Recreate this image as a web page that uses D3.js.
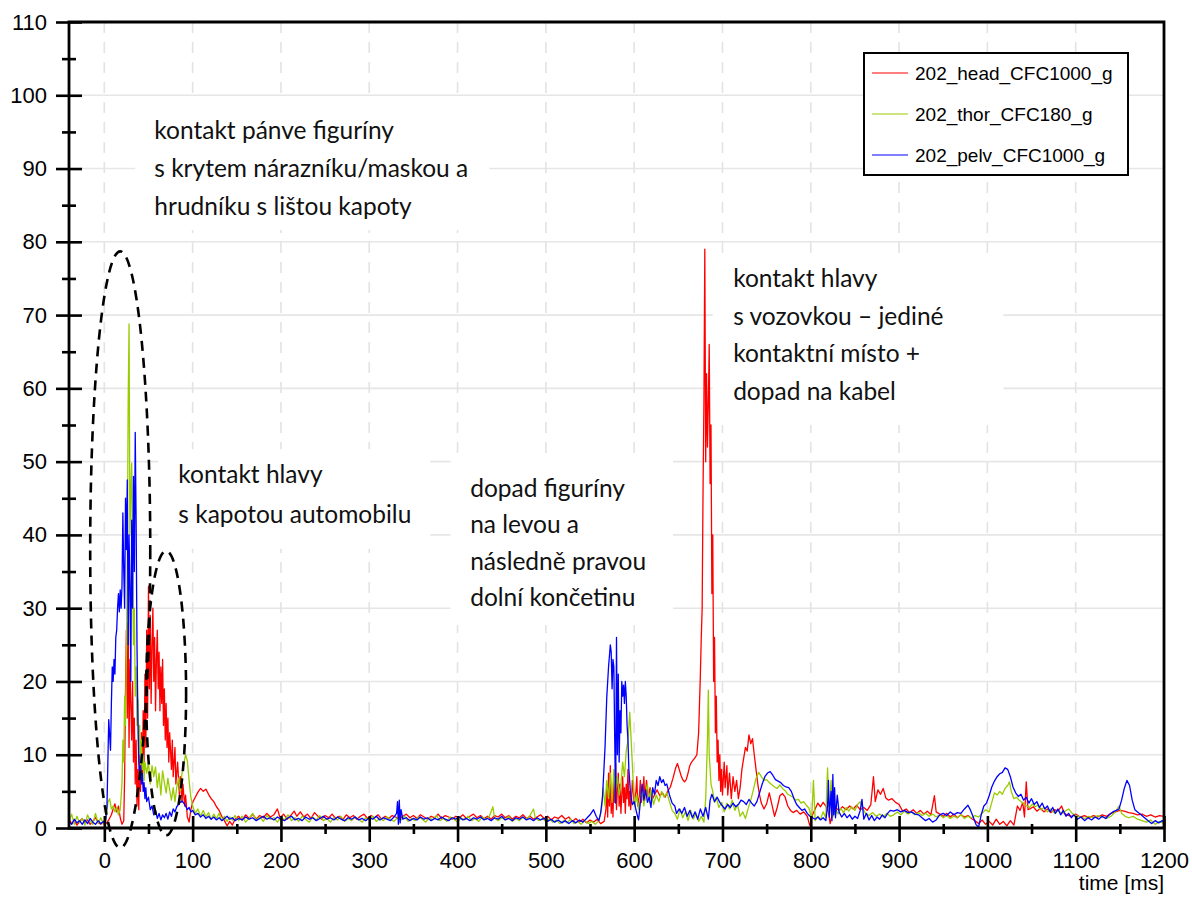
<!DOCTYPE html>
<html>
<head>
<meta charset="utf-8">
<script src="https://cdn.jsdelivr.net/npm/d3@7"></script>
<style>
  html, body { margin:0; padding:0; background:#fff; }
  svg { display:block; }
</style>
</head>
<body>
<svg id="chart" width="1192" height="897"></svg>
<script>
// ---- data (time [ms], acceleration [g]) ----
const seriesNames = ["202_head_CFC1000_g", "202_thor_CFC180_g", "202_pelv_CFC1000_g"];

const head = [
  [-40,1.2],[-37,0.6],[-34,1.0],[-31,0.4],[-28,0.9],[-25,1.3],[-22,0.7],[-19,1.1],[-16,0.5],[-13,0.9],[-10,1.4],[-7,0.8],[-4,0.5],[-1,0.9],
  [2,0.6],[5,1.1],[8,1.8],[10,2.6],[12,3.3],[14,2.2],[16,3.0],[18,1.4],[20,0.5],[22,1.0],
  [23,7],[24,19],[25,27],[26,15],[27,28],[28,11],[29,23],[30,17],[31,12],[32,20],[33,9],[34,15],[35,6],[36,12],[37,3],[38,8],[39,2.5],
  [40,10],[41,5],[42,13],[43,7],[44,16],[45,9],[46,21],[47,11],[48,27],[49,15],[50,33],[51,19],[52,29],[53,17],[54,25],[55,30],
  [56,20],[57,26],[58,16],[59,23],[60,27],[61,19],[62,24],[63,16],[64,22],[65,17],[66,23],[67,14],[68,19],[69,12],[70,17],[71,11],
  [72,15],[73,9],[74,13],[76,8],[77,12],[78,7],[80,11],[81,6],[83,9],[85,4.5],[86,7],[88,3.5],[89,6],[91,3],[92,4.5],[94,1.5],[96,0.8],
  [98,2.5],[100,3.5],[103,4.2],[106,4.9],[109,5.4],[112,5.0],[115,5.3],[118,4.6],[121,4.0],[124,3.6],[127,2.9],[130,2.4],[133,1.6],
  [136,1.0],[139,0.3],[142,0.9],[145,0.4],[148,1.2],
  [152,1.6],[156,1.1],[160,1.8],[164,1.3],[168,1.9],[172,1.2],[176,1.7],[180,1.4],[184,2.0],[188,1.5],[192,1.8],[196,2.6],[199,1.4],
  [203,1.9],[207,1.2],[211,1.7],[215,2.3],[218,1.6],[222,2.2],[226,1.5],[230,1.9],[234,1.3],[238,2.1],[242,1.6],[246,1.2],[250,1.7],
  [254,1.4],[258,1.9],[262,1.3],[266,1.6],[270,1.1],[274,1.8],[278,1.4],[282,1.7],[286,1.2],[290,1.6],[294,1.9],[298,1.3],[302,1.7],
  [306,1.4],[310,1.8],[314,1.2],[318,1.6],[322,1.3],[326,1.7],[330,1.5],[334,1.2],[338,1.6],[342,1.9],[346,1.4],[350,1.7],[354,1.3],
  [358,1.8],[362,1.5],[366,1.2],[370,1.6],[374,1.4],[378,1.9],[382,1.3],[386,1.7],[390,1.5],[394,1.2],[398,1.6],[402,1.4],[406,1.8],
  [410,1.3],[414,1.6],[418,1.9],[422,1.4],[426,1.7],[430,1.3],[434,1.6],[438,1.2],[442,1.7],[446,1.5],[450,1.9],[454,1.4],[458,1.7],
  [462,1.2],[466,1.6],[470,1.4],[474,1.8],[478,1.3],[482,1.6],[486,1.2],[490,1.5],[494,1.8],[498,1.3],[502,1.6],[506,1.1],[510,1.5],
  [514,1.3],[518,1.7],[522,1.2],[526,1.5],[530,0.9],[534,1.3],[538,0.8],[542,1.2],[546,0.7],[550,1.1],[554,0.8],[558,1.2],[562,0.6],
  [566,0.9],[568,2.5],[569,6],[570,1.5],[571,7.5],[572,3],[573,8.5],[574,2],[575,5],[576,1.5],[577,6.5],[578,3.5],[579,8.8],[580,2.5],
  [581,5.5],[582,7.5],[583,3],[584,6],[585,2],[586,4.5],[587,7],[588,3.5],[589,5.5],[590,2],[591,6],[592,4],[593,8],[594,3],[595,5],
  [596,2.5],[597,4],[598,6.5],[600,3.5],[602,5],[603,7],[604,3],[606,4.5],[607,6.5],[608,3.5],[610,5],[611,7],[612,3.8],[614,6.5],
  [616,4],[618,5.5],[620,3.8],[623,4.5],[626,5.2],[629,4.4],[632,4.8],[635,4.2],[638,5.0],[641,5.6],[644,6.8],[647,8.2],[649,8.8],
  [651,8.0],[653,7.2],[655,6.6],[657,6.3],[659,6.6],[661,7.5],[663,8.5],[665,9.0],[667,9.3],[669,9.6],[671,10],[673,13],[674,17],
  [675,21],[676,26],[677,30],[678,46],[679,58],[680,79],[681,50],[682,62],[683,52],[684,58],[685,66],[686,47],[687,55],[688,32],
  [689,40],[690,20],[691,26],[692,13],[693,18],[694,9],[695,12],[696,6.5],[697,10],[698,5],[699,8],[700,4.5],[702,9],[703,5.5],
  [705,8.5],[706,4.5],[708,7.5],[710,4],[712,7],[714,5],[716,6.5],[718,4],[720,5.5],[722,8],[724,9.5],[726,11],[728,10.5],[730,12.7],
  [732,11.5],[734,12.2],[736,10],[738,8],[740,6],[742,4.5],[744,3.4],[747,2.6],[750,3.3],[753,4.8],[756,3.2],[759,1.6],[762,2.8],
  [765,4.4],[768,4.7],[771,4.2],[774,3.0],[777,2.4],[780,2.1],[784,2.4],[788,1.9],[792,2.2],[796,1.6],[799,0.3],[802,1.8],[805,2.6],
  [808,3.4],[811,2.9],[814,3.5],[817,3.0],[820,2.2],[822,0.6],[825,2.4],[828,2.8],[832,2.4],[836,2.9],[840,2.5],[844,3.0],[848,2.6],
  [852,3.1],[856,2.5],[860,2.8],[864,2.4],[868,3.2],[871,7.0],[873,3.6],[876,5.2],[879,4.6],[882,5.4],[885,4.1],[888,3.8],[892,4.0],
  [896,3.5],[900,3.2],[904,2.3],[908,2.6],[912,2.1],[916,2.5],[920,2.0],[924,2.4],[928,1.9],[932,2.3],[936,1.8],[940,4.4],[942,2.2],
  [946,1.9],[950,1.6],[954,2.0],[958,1.5],[962,1.9],[966,1.4],[970,1.8],[974,1.5],[978,1.7],[982,1.3],[986,1.0],[990,0.6],[994,1.1],
  [998,0.5],[1002,0.9],[1006,0.4],[1010,1.2],[1014,0.5],[1018,0.9],[1022,0.3],[1026,1.0],[1030,0.4],[1034,3.0],[1037,2.4],[1040,3.5],
  [1042,1.5],[1044,6.3],[1046,2.5],[1048,2.6],[1052,2.9],[1056,2.3],[1060,2.7],[1064,2.2],[1068,2.6],[1072,2.1],[1076,2.5],[1080,2.3],
  [1084,3.0],[1087,2.0],[1090,1.8],[1095,1.6],[1100,1.9],[1105,1.5],[1110,1.7],[1115,1.4],[1120,1.7],[1125,1.5],[1130,1.8],[1135,1.6],
  [1140,2.0],[1145,2.2],[1150,2.4],[1155,2.3],[1160,2.1],[1165,2.0],[1170,1.8],[1175,1.9],[1180,1.6],[1185,1.8],[1190,1.5],[1195,1.7],
  [1200,1.6]
];

const thor = [
  [-40,0.8],[-37,1.9],[-34,0.5],[-31,1.6],[-28,0.7],[-25,1.3],[-22,0.4],[-19,1.8],[-16,0.9],[-13,0.5],[-10,2.0],[-7,0.6],[-4,1.4],[-1,0.5],
  [2,1.2],[4,3.5],[6,4.0],[8,2.6],[10,3.0],[12,2.2],[14,2.8],[16,1.8],[18,2.5],[20,6],[21,12],[22,9],[23,18],[24,14],[25,24],[26,35],
  [27,58],[28,68.8],[29,40],[30,46],[31,49.8],[32,36],[33,25],[34,30],[35,18],[36,22],[37,14],[38,17.5],[39,10],[40,14],[41,8.5],
  [42,12],[43,8],[44,10],[45,6.5],[46,9],[48,7.5],[50,9],[52,6],[54,8.5],[56,7],[58,8.3],[60,5.5],[62,7.5],[64,4.5],[66,7.8],[68,6.2],
  [70,4.8],[72,6.8],[74,5.2],[76,3.8],[78,5.5],[80,3.6],[82,5.5],[84,6.8],[86,5.0],[88,7.5],[90,8.8],[92,10],[94,9.2],[96,6.5],[98,4.2],
  [100,3.0],[103,2.0],[106,2.6],[109,1.6],[112,2.4],[115,1.5],[118,2.1],[121,1.2],[124,1.9],[127,1.3],[130,2.0],[133,1.0],[136,1.6],
  [139,0.9],[142,1.5],[145,1.1],[148,1.7],
  [152,1.0],[156,1.6],[160,0.8],[164,1.3],[168,2.0],[172,1.1],[176,1.5],[180,0.9],[184,1.7],[188,1.2],[192,1.4],[196,0.8],[200,1.5],
  [204,1.1],[208,1.8],[212,1.0],[216,1.4],[220,0.9],[224,1.6],[228,1.2],[232,0.8],[236,1.5],[240,1.1],[244,1.7],[248,1.0],[252,1.3],
  [256,0.8],[260,1.4],[264,1.1],[268,1.6],[272,0.9],[276,1.3],[280,1.0],[284,1.5],[288,1.2],[292,0.8],[296,1.4],[300,1.1],[304,1.6],
  [308,0.9],[312,1.3],[316,1.0],[320,1.5],[324,1.2],[328,0.9],[332,1.4],[336,1.1],[340,1.6],[344,0.9],[348,1.3],[352,1.0],[356,1.5],
  [360,1.2],[364,0.8],[368,1.4],[372,1.1],[376,1.7],[380,1.0],[384,1.3],[388,0.9],[392,1.5],[396,1.2],[400,0.8],[404,1.4],[408,1.1],
  [412,1.6],[416,1.0],[420,1.3],[424,0.9],[428,1.5],[432,1.2],[436,1.6],[440,2.9],[442,1.3],[446,1.0],[450,1.4],[454,1.1],[458,1.6],
  [462,0.9],[466,1.3],[470,1.0],[474,1.5],[478,1.2],[482,1.7],[486,2.6],[488,1.4],[492,1.0],[496,1.3],[500,0.9],[504,1.2],[508,0.8],
  [512,1.1],[516,0.6],[520,1.0],[524,0.7],[528,1.2],[532,0.6],[536,0.9],[540,0.5],[544,1.0],[548,0.6],[552,0.9],[556,0.5],[560,1.0],
  [563,2.5],[565,5.5],[567,3],[569,6.5],[571,4],[573,7.5],[575,3.5],[577,8],[579,5],[581,7],[583,4.5],[585,6],[587,9],[589,7],
  [591,10.5],[593,12],[595,15.8],[597,11],[599,6],[601,3],[603,4.5],[605,2.5],[607,3.8],[609,5.5],[611,3],[613,4.8],[615,6],[617,3.5],
  [619,5.2],[622,3.2],[625,4.5],[628,3.6],[631,5.0],[634,4.2],[637,4.8],[640,3.6],[643,2.4],[646,2.0],[649,1.2],[652,2.6],[655,1.4],
  [658,2.2],[661,1.0],[664,2.4],[667,1.2],[670,2.0],[673,0.9],[676,1.6],[679,0.8],[681,4],[683,12],[684,18.8],[685,10],[687,6],
  [689,5],[691,3.5],[693,4.2],[696,2.8],[699,3.5],[702,2.2],[705,3.4],[708,2.6],[711,3.8],[714,2.4],[717,3.2],[720,1.6],[723,2.2],
  [726,1.3],[729,2.6],[732,3.8],[735,5.2],[738,6.8],[741,7.6],[744,7.0],[747,6.5],[750,6.6],[753,6.2],[756,5.9],[759,5.6],[762,5.4],
  [765,5.9],[768,5.4],[771,5.1],[774,4.6],[777,4.4],[780,4.2],[783,3.8],[786,3.9],[789,3.4],[792,3.6],[795,3.1],[798,2.7],[801,1.2],
  [803,6.5],[805,1.0],[808,1.6],[811,1.2],[814,2.2],[817,1.4],[819,8.2],[821,2.0],[823,6.5],[825,1.5],[828,2.6],[831,1.9],[834,2.7],
  [837,2.1],[840,2.8],[843,2.3],[846,2.9],[850,2.4],[853,3.2],[856,3.6],[859,2.6],[862,2.0],[866,1.7],[870,2.1],[874,1.6],[878,1.9],
  [882,1.5],[886,2.0],[890,1.6],[894,1.8],[898,2.2],[902,1.8],[906,2.3],[910,1.9],[914,2.2],[918,1.8],[922,2.1],[926,1.7],[930,2.0],
  [934,1.6],[938,1.9],[942,1.5],[946,1.8],[950,1.4],[954,1.7],[958,1.3],[962,1.6],[966,1.4],[970,1.8],[974,1.3],[978,1.6],[982,1.4],
  [986,1.7],[990,1.5],[994,2.0],[998,2.5],[1002,2.2],[1005,3.5],[1008,4.8],[1011,4.5],[1014,5.0],[1017,4.6],[1020,5.4],[1023,5.8],
  [1025,6.3],[1027,5.0],[1030,4.0],[1033,4.2],[1036,3.8],[1039,3.5],[1042,3.2],[1045,3.0],[1048,2.8],[1051,3.3],[1054,2.9],[1057,3.1],
  [1060,2.5],[1064,2.8],[1068,2.2],[1072,2.6],[1076,2.0],[1080,2.4],[1084,2.0],[1088,2.3],[1092,2.6],[1096,2.0],[1100,1.7],[1105,1.5],
  [1110,1.3],[1115,1.6],[1120,1.4],[1125,1.7],[1130,1.5],[1135,1.3],[1140,1.6],[1145,2.2],[1149,3.0],[1152,2.0],[1156,1.6],[1160,1.4],
  [1165,1.6],[1170,1.2],[1175,1.0],[1180,0.8],[1185,1.1],[1190,0.5],[1195,0.9],[1200,0.6]
];

const pelv = [
  [-40,0.9],[-37,0.5],[-34,1.2],[-31,0.7],[-28,1.0],[-25,0.5],[-22,1.1],[-19,0.6],[-16,1.3],[-13,0.8],[-10,0.5],[-7,1.0],[-4,0.6],[-1,0.9],
  [1,0.5],[3,3],[5,14.8],[7,10.6],[8,17],[9,22],[10,20],[11,23],[12,21],[13,26],[14,27],[15,30],[16,32],[17,29.5],[18,32.5],[19,30],
  [20,33],[21,43],[22,35],[23,30],[24,45],[25,38],[26,47.5],[27,25],[28,40],[29,33],[30,20],[31,42],[32,30],[33,48],[34,35],[35,54],
  [36,42],[37,25],[38,15],[39,9],[40,7],[41,8.5],[42,6],[43,7.5],[44,5],[45,6.2],[46,4],[47,5.5],[48,3.6],[50,4.2],[52,2.5],[54,3.0],
  [56,1.8],[58,2.4],[60,1.3],[62,2.0],[64,1.1],[66,1.8],[68,1.4],[70,2.0],[72,1.2],[74,2.2],[76,1.6],[78,2.6],[80,2.2],[82,2.9],
  [84,3.2],[86,3.5],[88,3.7],[90,3.4],[92,3.0],[94,2.5],[96,2.8],[98,2.2],[100,2.4],[103,1.8],[106,2.0],[109,1.5],[112,1.8],[115,1.3],
  [118,1.6],[121,1.2],[124,1.5],[127,1.1],[130,1.4],[133,1.0],[136,1.3],[139,1.6],[142,1.2],[145,1.4],[148,1.0],
  [152,1.3],[156,1.1],[160,1.5],[164,1.2],[168,1.4],[172,1.0],[176,1.3],[180,1.6],[184,1.2],[188,1.4],[192,1.1],[196,1.5],[200,1.2],
  [204,1.0],[208,1.4],[212,1.6],[216,1.1],[220,1.3],[224,1.0],[228,1.5],[232,1.2],[236,1.4],[240,1.0],[244,1.3],[248,1.6],[252,1.2],
  [256,1.4],[260,1.1],[264,1.5],[268,1.2],[272,1.0],[276,1.4],[280,1.2],[284,1.5],[288,1.1],[292,1.3],[296,1.0],[300,1.4],[304,1.2],
  [308,1.6],[312,1.1],[316,1.4],[320,1.2],[324,1.0],[328,1.5],[331,2.0],[332,3.6],[333,0.5],[334,3.8],[335,0.7],[336,2.5],[338,1.2],
  [342,1.4],[346,1.0],[350,1.3],[354,1.1],[358,1.5],[362,1.2],[366,1.4],[370,1.0],[374,1.3],[378,1.1],[382,1.5],[386,1.2],[390,1.0],
  [394,1.4],[398,1.2],[402,1.5],[406,1.1],[410,1.3],[414,1.0],[418,1.4],[422,1.2],[426,1.5],[430,1.1],[434,1.3],[438,1.0],[442,1.4],
  [446,1.2],[450,1.6],[454,1.1],[458,1.3],[462,1.0],[466,1.4],[470,1.2],[474,1.5],[478,1.1],[482,1.3],[486,1.0],[490,1.4],[494,1.1],
  [498,1.3],[502,0.9],[506,1.2],[510,0.8],[514,1.1],[518,0.7],[522,1.0],[526,0.6],[530,1.0],[534,0.7],[538,1.1],[542,0.8],[546,1.3],
  [550,1.8],[554,2.5],[557,1.6],[560,1.0],[562,2.0],[564,4.0],[565,6.2],[567,11],[569,17.9],[571,22],[573,25],[574,24],[575,19],
  [576,23],[577,22],[578,12],[579,3.4],[580,26],[581,10],[582,21],[583,9],[584,16],[585,13],[586,20],[587,18],[588,19.5],[589,17],
  [590,20],[591,18],[592,14],[593,12],[594,8],[596,4.5],[598,3.2],[600,3.6],[602,2.5],[604,1.5],[605,1.1],[607,3.5],[609,6],[611,3.8],
  [613,5.2],[615,3.5],[617,4.2],[619,2.8],[621,5.5],[623,4.6],[625,6.5],[627,5.8],[629,7.0],[631,6.2],[633,6.6],[635,5.8],[637,6.0],
  [640,4.5],[643,3.4],[646,3.0],[648,2.0],[651,2.6],[654,2.0],[657,2.8],[660,1.6],[663,2.4],[666,1.4],[669,2.2],[672,1.2],[675,2.6],
  [678,1.6],[681,2.8],[684,1.2],[686,3.8],[688,4.6],[691,3.6],[694,4.2],[697,3.5],[700,3.0],[703,2.6],[706,3.2],[709,2.8],[712,3.4],
  [715,2.9],[718,3.2],[721,3.8],[724,3.6],[727,3.2],[730,3.9],[733,3.4],[736,3.0],[739,3.6],[742,4.8],[745,6.0],[748,7.0],[751,7.5],
  [754,7.7],[757,7.2],[760,6.6],[763,6.4],[766,6.2],[769,5.8],[772,5.6],[775,5.5],[778,5.0],[781,4.0],[784,3.2],[787,2.8],[790,2.4],
  [793,2.6],[796,2.0],[799,1.6],[802,1.4],[805,1.2],[808,1.5],[811,1.1],[814,1.4],[817,1.0],[819,3],[820,6.5],[821,1.5],[823,5],
  [824,1.0],[825,7.3],[826,1.8],[827,5.5],[828,1.4],[830,4.5],[832,2.2],[835,1.5],[838,2.0],[841,1.4],[844,1.8],[847,1.2],[850,1.6],
  [853,1.3],[856,2.4],[858,3.9],[860,1.2],[863,2.0],[866,1.1],[869,1.7],[872,1.0],[875,1.5],[878,1.2],[881,1.8],[884,1.4],[887,2.0],
  [890,2.4],[894,2.3],[898,2.5],[902,2.2],[906,2.4],[910,2.1],[914,2.2],[918,1.9],[922,1.8],[926,1.4],[930,1.0],[934,1.3],[938,0.8],
  [942,1.1],[946,1.8],[950,2.0],[954,1.7],[958,2.2],[962,1.8],[966,2.1],[970,2.0],[974,2.6],[978,3.1],[981,2.4],[984,1.5],[987,0.5],
  [990,0.1],[993,1.8],[996,3.0],[999,3.4],[1002,4.4],[1005,5.6],[1008,6.4],[1011,7.0],[1014,7.4],[1017,7.6],[1020,8.2],[1023,8.0],
  [1026,7.0],[1029,5.6],[1032,4.8],[1035,4.3],[1038,4.6],[1041,3.8],[1044,4.2],[1047,3.4],[1050,4.0],[1053,3.2],[1056,3.6],[1059,2.8],
  [1062,3.4],[1065,2.6],[1068,3.0],[1071,2.2],[1074,2.8],[1077,2.0],[1080,2.6],[1083,1.8],[1086,2.4],[1089,1.6],[1092,2.0],[1095,1.4],
  [1098,1.8],[1102,1.2],[1106,1.5],[1110,1.0],[1114,1.4],[1118,1.1],[1122,1.5],[1126,1.2],[1130,1.6],[1134,1.3],[1138,1.8],[1142,2.2],
  [1146,2.4],[1149,2.6],[1152,3.8],[1155,5.4],[1158,6.5],[1161,5.8],[1164,3.8],[1167,2.5],[1170,2.2],[1174,1.8],[1178,1.4],[1182,1.0],
  [1186,0.6],[1190,1.0],[1194,0.7],[1198,1.0],[1200,0.8]
];

const xTicks = [0,100,200,300,400,500,600,700,800,900,1000,1100,1200];
const xMinor = [50,150,250,350,450,550,650,750,850,950,1050,1150];
const yTicks = [0,10,20,30,40,50,60,70,80,90,100,110];
const yMinor = [5,15,25,35,45,55,65,75,85,95,105];
const xLabel = "time [ms]";

// annotation texts, anchored in data units (ms, g)
const notes = [
  { t:56.6, v:94.0, step:38, box:[35,99.4,436,81.6],
    lines:["kontakt pánve figuríny","s krytem nárazníku/maskou a","hrudníku s lištou kapoty"] },
  { t:83.8, v:47.1, step:40, box:[61,51.7,369,38.1],
    lines:["kontakt hlavy","s kapotou automobilu"] },
  { t:414.3, v:45.2, step:36.5, box:[392,50.8,644,27.7],
    lines:["dopad figuríny","na levou a","následně pravou","dolní končetinu"] },
  { t:712.1, v:73.8, step:37.5, box:[689,78.2,1018,55.0],
    lines:["kontakt hlavy","s vozovkou – jediné","kontaktní místo +","dopad na kabel"] }
];
// dashed ellipses: centre and radii in data units
const rings = [
  { t:18, v:38, rt:34, rv:40.7 },
  { t:70, v:18.4, rt:22.6, rv:19.4 }
];

// ---- drawing ----
const colors = ["#ff0000", "#99cc00", "#0000ff"];
const tickFont = '"Liberation Sans", Arial, sans-serif';
const noteFont = 'Lato, "Open Sans", sans-serif';

const svg = d3.select('#chart');
const x = d3.scaleLinear().domain([-40,1200]).range([69,1164]);
const y = d3.scaleLinear().domain([0,110]).range([828,22]);

svg.append('rect').attr('width',1192).attr('height',897).attr('fill','#fff');

// grid
const grid = svg.append('g');
grid.selectAll('.hg').data(yTicks.slice(1,-1)).enter().append('line')
  .attr('x1', x(-40)).attr('x2', x(1200))
  .attr('y1', d=>y(d)).attr('y2', d=>y(d))
  .attr('stroke','#e6e6e6').attr('stroke-width',1.6);
grid.selectAll('.vg').data(xTicks.slice(0,-1)).enter().append('line')
  .attr('x1', d=>x(d)).attr('x2', d=>x(d))
  .attr('y1', y(110)).attr('y2', y(0))
  .attr('stroke','#e3e3e3').attr('stroke-width',1.6)
  .attr('stroke-dasharray','11,9');

// white text boxes hide the grid
svg.selectAll('.nbox').data(notes).enter().append('rect')
  .attr('x', d=>x(d.box[0])).attr('y', d=>y(d.box[1]))
  .attr('width', d=>x(d.box[2])-x(d.box[0]))
  .attr('height', d=>y(d.box[3])-y(d.box[1]))
  .attr('fill','#fff');

// curves
const line = d3.line().x(d=>x(d[0])).y(d=>y(d[1]));
[head, thor, pelv].forEach((s,i)=>{
  svg.append('path').datum(s)
    .attr('d', line)
    .attr('fill','none')
    .attr('stroke', colors[i])
    .attr('stroke-width', 1.3)
    .attr('stroke-linejoin','round');
});

// ellipses
svg.selectAll('.ring').data(rings).enter().append('ellipse')
  .attr('cx', d=>x(d.t)).attr('cy', d=>y(d.v))
  .attr('rx', d=>x(d.t+d.rt)-x(d.t))
  .attr('ry', d=>y(d.v-d.rv)-y(d.v))
  .attr('fill','none').attr('stroke','#000')
  .attr('stroke-width',2.6).attr('stroke-dasharray','10,7');

// annotation text
notes.forEach(n=>{
  const g = svg.append('text')
    .attr('font-family', noteFont).attr('font-size', 24.5).attr('fill','#111');
  n.lines.forEach((s,k)=>{
    g.append('tspan').attr('x', x(n.t)).attr('y', y(n.v) + k*n.step).text(s);
  });
});

// axes
function styleAxis(g){
  g.select('.domain').remove();
  g.selectAll('line').attr('stroke','#000').attr('stroke-width',2.6);
}
const yAx = svg.append('g').attr('transform',`translate(${x(-40)},0)`)
  .call(d3.axisLeft(y).tickValues(yTicks).tickSize(13).tickPadding(9));
styleAxis(yAx);
yAx.selectAll('line').attr('x1',13);
yAx.selectAll('text').attr('font-family',tickFont).attr('font-size',22).attr('fill','#000');

const yMin = svg.append('g').attr('transform',`translate(${x(-40)},0)`)
  .call(d3.axisLeft(y).tickValues(yMinor).tickSize(7).tickFormat(''));
styleAxis(yMin);
yMin.selectAll('line').attr('x1',7);

const xAx = svg.append('g').attr('transform',`translate(0,${y(0)})`)
  .call(d3.axisBottom(x).tickValues(xTicks).tickSize(14).tickPadding(10).tickFormat(d3.format('d')));
styleAxis(xAx);
xAx.selectAll('line').attr('y1',-12);
xAx.selectAll('text').attr('font-family',tickFont).attr('font-size',22).attr('fill','#000');

const xMin = svg.append('g').attr('transform',`translate(0,${y(0)})`)
  .call(d3.axisBottom(x).tickValues(xMinor).tickSize(6).tickFormat(''));
styleAxis(xMin);
xMin.selectAll('line').attr('y1',-4);

// frame
const frame = d3.path();
frame.moveTo(x(-40), y(0)); frame.lineTo(x(-40), y(110)); frame.lineTo(x(1200), y(110));
frame.lineTo(x(1200), y(0)); frame.closePath();
svg.append('path').attr('d', frame.toString()).attr('fill','none')
  .attr('stroke','#000').attr('stroke-width',2.8);

svg.append('text').attr('x', x(1200)).attr('y', 890)
  .attr('text-anchor','end').attr('font-family',tickFont).attr('font-size',21)
  .text(xLabel);

// legend
const lg = svg.append('g').attr('transform','translate(864,53)');
lg.append('rect').attr('width',264).attr('height',122)
  .attr('fill','#fff').attr('stroke','#000').attr('stroke-width',2);
seriesNames.forEach((name,i)=>{
  const yy = 20 + i*41;
  lg.append('line').attr('x1',8).attr('x2',44).attr('y1',yy).attr('y2',yy)
    .attr('stroke',colors[i]).attr('stroke-width',1.2);
  lg.append('text').attr('x',51).attr('y',yy+7)
    .attr('font-family',tickFont).attr('font-size',19).attr('fill','#000')
    .text(name);
});
</script>
</body>
</html>
